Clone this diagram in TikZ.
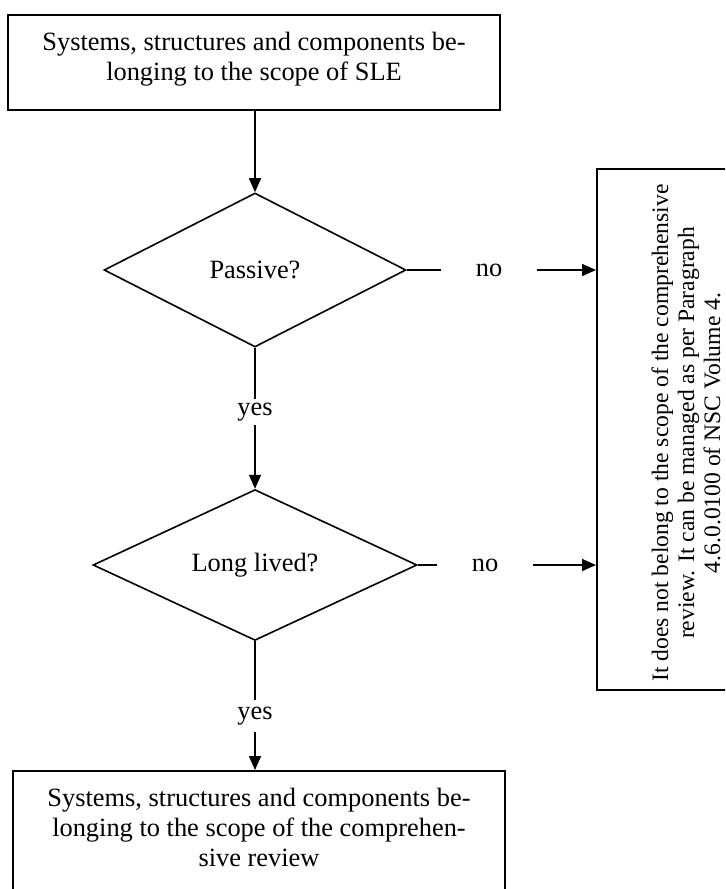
\documentclass[tikz,border=0pt]{standalone}
\usepackage{fontspec}
\setmainfont{Liberation Serif}
\usetikzlibrary{shapes.geometric,arrows.meta}
\begin{document}
\begin{tikzpicture}[x=0.5pt,y=-0.5pt,
  every node/.style={font=\fontsize{13.2}{15}\selectfont},
  boxnode/.style={draw, line width=1pt, inner sep=0pt, align=center},
  decision/.style={draw, diamond, line width=0.8pt, inner sep=0pt},
  conn/.style={line width=0.8pt},
  arr/.style={conn, -{Triangle[length=7pt,width=6pt]}},
  nolbl/.style={inner sep=0pt, minimum width=48pt, minimum height=10pt},
  yeslbl/.style={inner sep=0pt, minimum width=14pt, minimum height=#1}]
\useasboundingbox (0,0) rectangle (725,889);
\clip (0,0) rectangle (725,889);

% top box
\node (tbox) [boxnode, minimum width=246pt, minimum height=47.5pt] at (254,62.5) {};
\node (ttext) [align=center, inner sep=0pt] at (254,59)
  {Systems, structures and components be-\\longing to the scope of SLE};

% decisions
\node (d1) [decision, minimum width=151pt, minimum height=77pt] at (255,270) {Passive?};
\node (d2) [decision, minimum width=162pt, minimum height=75pt] at (255,565) {Long lived?};

% labels
\node (no1) [nolbl] at (489,270) {no};
\node (no2) [nolbl] at (485,565) {no};
\node (yes1) [yeslbl=12.5pt] at (255,412) {yes};
\node (yes2) [yeslbl=16pt] at (255,716) {yes};

% right box
\node (rbox) [boxnode, minimum width=71.5pt, minimum height=260.5pt] at (668.5,429.5) {};
\node (rtext) [rotate=90, align=center, inner sep=0pt,
  font=\fontsize{11.8}{13}\selectfont] at (686,433)
  {It does not belong to the scope of the comprehensive\\review. It can be managed as per Paragraph\\4.6.0.0100 of NSC Volume 4.};

% bottom box
\node (bbox) [boxnode, minimum width=246pt, minimum height=70pt] at (259,841) {};
\node (btext) [align=center, inner sep=0pt] at (259,827)
  {Systems, structures and components be-\\longing to the scope of the comprehen-\\sive review};

% connectors
\draw[arr] (tbox.south -| d1.north) -- (d1.north);
\draw[conn] (d1.east) -- (no1.west);
\draw[arr] (no1.east) -- (no1.east -| rbox.west);
\draw[conn] (d1.south) -- (yes1.north);
\draw[arr] (yes1.south) -- (d2.north);
\draw[conn] (d2.east) -- (no2.west);
\draw[arr] (no2.east) -- (no2.east -| rbox.west);
\draw[conn] (d2.south) -- (yes2.north);
\draw[arr] (yes2.south) -- (yes2.south |- bbox.north);
\end{tikzpicture}
\end{document}
